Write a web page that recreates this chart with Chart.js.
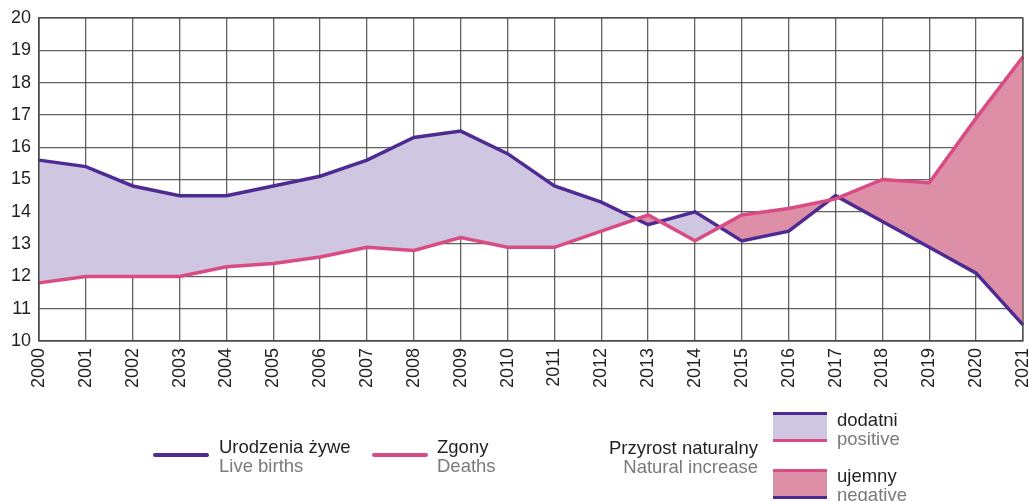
<!DOCTYPE html>
<html>
<head>
<meta charset="utf-8">
<script src="https://cdn.jsdelivr.net/npm/chart.js@4.4.1/dist/chart.umd.min.js"></script>
<style>
    html, body { margin: 0; padding: 0; background: #fff; }
    #wrap { position: relative; width: 1029px; height: 501px; overflow: hidden; font-family: 'Liberation Sans', Arial, sans-serif; }
    #chart { position: absolute; left: 0; top: 0; }
    .lg { position: absolute; font-size: 18.5px; line-height: 19px; white-space: nowrap; }
    .lg .pl { color: #231f20; }
    .lg .en { color: #7a7a7a; }
    .sw-line { position: absolute; height: 4px; border-radius: 2px; }
    .sw-box { position: absolute; width: 54px; height: 24px; border-top: 3px solid; border-bottom: 3px solid; }
</style>
</head>
<body>
<div id="wrap">
    <canvas id="chart" width="1029" height="501"></canvas>

    <div class="sw-line" style="left:153px; top:453px; width:56px; background:#4e2a93;"></div>
    <div class="lg" style="left:219px; top:437px;"><div class="pl">Urodzenia żywe</div><div class="en">Live births</div></div>

    <div class="sw-line" style="left:372px; top:453px; width:56px; background:#d94b83;"></div>
    <div class="lg" style="left:437px; top:437px;"><div class="pl">Zgony</div><div class="en">Deaths</div></div>

    <div class="lg" style="right:271px; top:438px; text-align:right;"><div class="pl">Przyrost naturalny</div><div class="en">Natural increase</div></div>

    <div class="sw-box" style="left:773px; top:412px; background:#cfc6e1; border-top-color:#4e2a93; border-bottom-color:#d94b83;"></div>
    <div class="lg" style="left:837px; top:410px;"><div class="pl">dodatni</div><div class="en">positive</div></div>

    <div class="sw-box" style="left:773px; top:469px; background:#de8fa8; border-top-color:#d94b83; border-bottom-color:#4e2a93;"></div>
    <div class="lg" style="left:837px; top:466px;"><div class="pl">ujemny</div><div class="en">negative</div></div>
</div>

<script>
    const years = ['2000', '2001', '2002', '2003', '2004', '2005', '2006', '2007', '2008', '2009', '2010',
        '2011', '2012', '2013', '2014', '2015', '2016', '2017', '2018', '2019', '2020', '2021'];
    const liveBirths = [15.6, 15.4, 14.8, 14.5, 14.5, 14.8, 15.1, 15.6, 16.3, 16.5, 15.8,
        14.8, 14.3, 13.6, 14.0, 13.1, 13.4, 14.5, 13.7, 12.9, 12.1, 10.5];
    const deaths = [11.8, 12.0, 12.0, 12.0, 12.3, 12.4, 12.6, 12.9, 12.8, 13.2, 12.9,
        12.9, 13.4, 13.9, 13.1, 13.9, 14.1, 14.4, 15.0, 14.9, 16.9, 18.8];
    const yMin = 10;
    const yMax = 20;

    const BIRTHS_COLOR = '#4e2a93';
    const DEATHS_COLOR = '#d94b83';
    const GRID_COLOR = 'rgba(70,70,70,0.85)';
    const tickFont = { family: "'Liberation Sans', Arial, sans-serif", size: 18 };

    new Chart(document.getElementById('chart'), {
        type: 'line',
        data: {
            labels: years,
            datasets: [
                {
                    label: 'Urodzenia żywe',
                    data: liveBirths,
                    borderColor: BIRTHS_COLOR,
                    borderWidth: 3.5,
                    pointRadius: 0,
                    tension: 0,
                    fill: { target: 1, above: '#cfc6e1', below: '#de8fa8' },
                    order: 2
                },
                {
                    label: 'Zgony',
                    data: deaths,
                    borderColor: DEATHS_COLOR,
                    borderWidth: 3.5,
                    pointRadius: 0,
                    tension: 0,
                    fill: false,
                    order: 1
                }
            ]
        },
        options: {
            responsive: false,
            animation: false,
            layout: { padding: { top: 18, right: 6, left: 0, bottom: 0 } },
            plugins: {
                legend: { display: false },
                tooltip: { enabled: false }
            },
            scales: {
                x: {
                    offset: false,
                    afterFit: scale => {
                        scale.height = 160;
                        scale.paddingLeft = 0;
                        scale.paddingRight = 0;
                    },
                    border: { display: true, color: GRID_COLOR, width: 1.3 },
                    grid: { color: GRID_COLOR, lineWidth: 1.3, drawTicks: false },
                    ticks: {
                        color: '#231f20',
                        font: tickFont,
                        minRotation: 90,
                        maxRotation: 90,
                        autoSkip: false,
                        padding: 7
                    }
                },
                y: {
                    min: yMin,
                    max: yMax,
                    afterFit: scale => {
                        scale.width = 39;
                        scale.paddingTop = 0;
                        scale.paddingBottom = 0;
                    },
                    border: { display: true, color: GRID_COLOR, width: 1.3 },
                    grid: { color: GRID_COLOR, lineWidth: 1.3, drawTicks: false },
                    ticks: {
                        stepSize: 1,
                        color: '#231f20',
                        font: tickFont,
                        padding: 8
                    }
                }
            }
        },
        plugins: [{
            id: 'frame',
            afterDraw(chart) {
                const { ctx, chartArea: a } = chart;
                ctx.save();
                ctx.strokeStyle = GRID_COLOR;
                ctx.lineWidth = 1.3;
                ctx.strokeRect(a.left, a.top, a.right - a.left, a.bottom - a.top);
                ctx.restore();
            }
        }]
    });
</script>
</body>
</html>
